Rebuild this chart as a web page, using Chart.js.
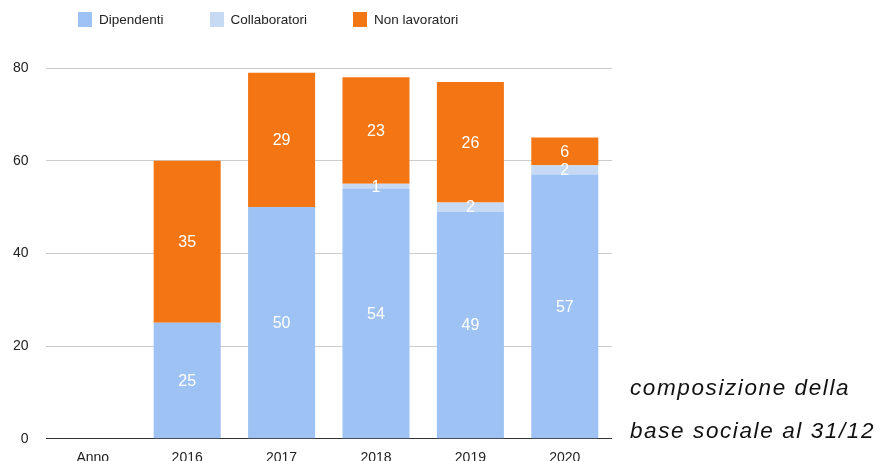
<!DOCTYPE html>
<html>
<head>
<meta charset="utf-8">
<script src="https://cdn.jsdelivr.net/npm/chart.js@4/dist/chart.umd.min.js"></script>
<style>
  html, body { margin: 0; padding: 0; background: #fff; }
  #wrap { position: relative; width: 880px; height: 461px; overflow: hidden; font-family: "Liberation Sans", Arial, sans-serif; }
  #chart { position: absolute; left: 0; top: 0; }
  #legend { position: absolute; left: 78px; top: 12px; display: flex; gap: 46px; font-size: 13.5px; color: #222; }
  .item { display: flex; align-items: center; gap: 7px; }
  .box { width: 14px; height: 15px; }
  .note { position: absolute; left: 630px; font-style: italic; font-size: 22.5px; letter-spacing: 1.6px; color: #111; white-space: nowrap; }
</style>
</head>
<body>
<div id="wrap">
  <canvas id="chart" width="880" height="475"></canvas>
  <div id="legend"></div>
  <div class="note" style="top: 375px;">composizione della</div>
  <div class="note" style="top: 418px;">base sociale al 31/12</div>
</div>
<script>
const categories = ['Anno', '2016', '2017', '2018', '2019', '2020'];
const dipendenti = [null, 25, 50, 54, 49, 57];
const collaboratori = [null, 0, 0, 1, 2, 2];
const nonLavoratori = [null, 35, 29, 23, 26, 6];
const yTicks = [0, 20, 40, 60, 80];

const FONT = '"Liberation Sans", Arial, sans-serif';

const datasets = [
  { label: 'Dipendenti', data: dipendenti, backgroundColor: '#9dc2f3' },
  { label: 'Collaboratori', data: collaboratori, backgroundColor: '#c6daf3' },
  { label: 'Non lavoratori', data: nonLavoratori, backgroundColor: '#f37513' },
];

// legend built from the datasets
const legend = document.getElementById('legend');
legend.innerHTML = datasets.map(d =>
  `<div class="item"><div class="box" style="background:${d.backgroundColor}"></div><span>${d.label}</span></div>`
).join('');

// white values centred in each segment
const valueLabels = {
  id: 'valueLabels',
  afterDatasetsDraw(chart) {
    const ctx = chart.ctx;
    ctx.save();
    ctx.fillStyle = '#fff';
    ctx.font = '16px ' + FONT;
    ctx.textAlign = 'center';
    ctx.textBaseline = 'middle';
    chart.data.datasets.forEach((ds, i) => {
      chart.getDatasetMeta(i).data.forEach((bar, j) => {
        const v = ds.data[j];
        if (!v) return;
        ctx.fillText(String(v), bar.x, (bar.y + bar.base) / 2 + 1);
      });
    });
    ctx.restore();
  }
};

new Chart(document.getElementById('chart'), {
  type: 'bar',
  data: {
    labels: categories,
    datasets: datasets.map(d => ({ ...d, borderWidth: 0, barPercentage: 0.71, categoryPercentage: 1 })),
  },
  options: {
    responsive: false,
    animation: false,
    layout: { padding: { top: 68, right: 268, left: -4, bottom: 5.5 } },
    plugins: { legend: { display: false }, tooltip: { enabled: false } },
    scales: {
      x: {
        stacked: true,
        grid: { display: false },
        border: { display: false },
        ticks: { color: '#222', font: { family: FONT, size: 14 }, padding: 3 },
      },
      y: {
        stacked: true,
        min: 0,
        max: 80,
        afterBuildTicks: axis => { axis.ticks = yTicks.map(v => ({ value: v })); },
        grid: {
          drawTicks: false,
          color: c => (c.tick && c.tick.value === 0 ? '#333' : '#cccccc'),
          lineWidth: 1,
        },
        border: { display: false },
        ticks: { color: '#222', font: { family: FONT, size: 14 }, padding: 17 },
      },
    },
  },
  plugins: [valueLabels],
});
</script>
</body>
</html>
